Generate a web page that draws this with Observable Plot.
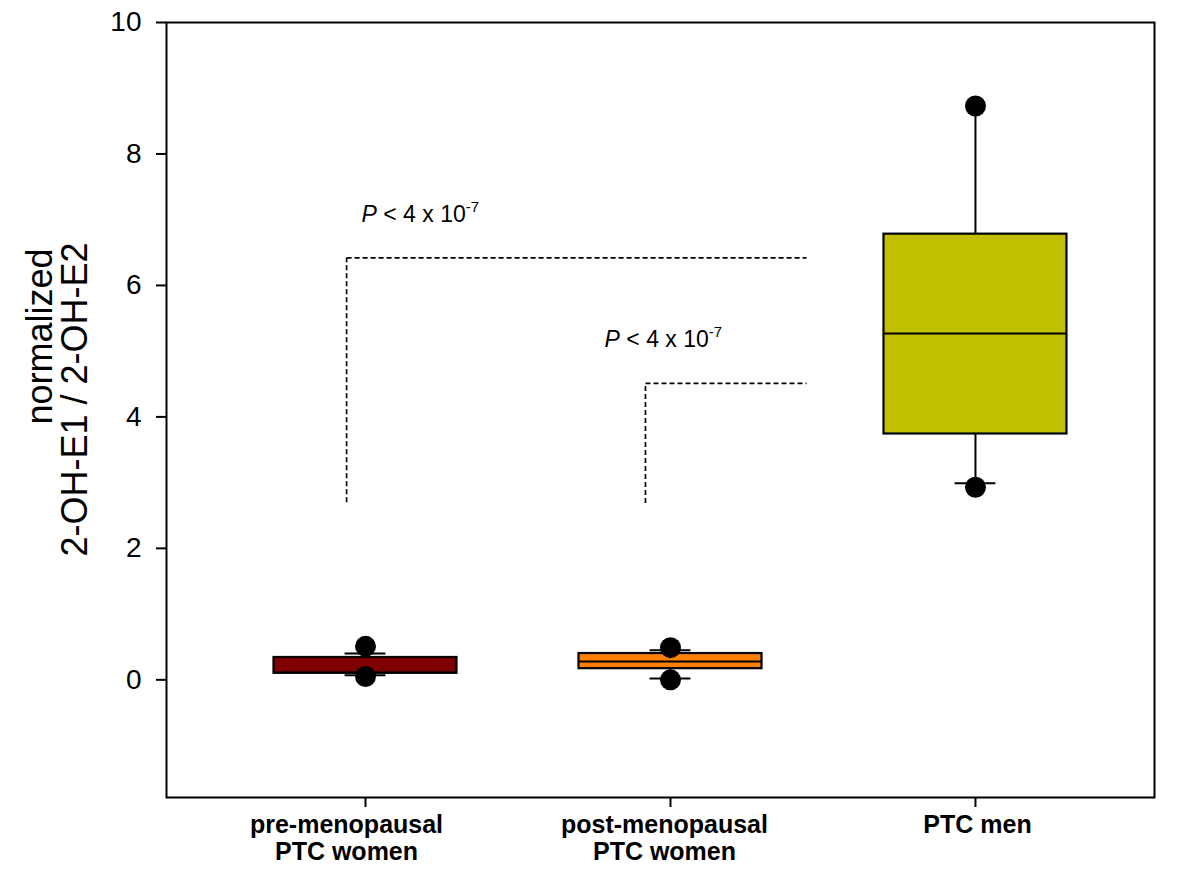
<!DOCTYPE html>
<html>
<head>
<meta charset="utf-8">
<script src="https://cdn.jsdelivr.net/npm/d3@7"></script>
<script src="https://cdn.jsdelivr.net/npm/@observablehq/plot@0.6"></script>
<style>
  html, body { margin: 0; padding: 0; background: white; }
</style>
</head>
<body>
<div id="chart"></div>
<script>
// ---- data ----
const categories = ["pre-menopausal\nPTC women", "post-menopausal\nPTC women", "PTC men"];
const q1 = [0.10, 0.17, 3.74];
const median = [0.11, 0.28, 5.27];
const q3 = [0.34, 0.40, 6.78];
const whiskerLow = [0.07, 0.02, 2.99];
const whiskerHigh = [0.40, 0.45, 8.72];
const capLowShown = [true, true, true];
const capHighShown = [true, true, false];
const outlierLow = [0.05, 0.00, 2.93];
const outlierHigh = [0.51, 0.49, 8.73];
const boxColors = ["#7f0000", "#ff8000", "#c0c000"];
const yTicks = [0, 2, 4, 6, 8, 10];
const yLabelLines = ["normalized", "2-OH-E1 / 2-OH-E2"];

// significance brackets: vertical line x, bottom y, top y, right end x
const bracketX = [0.938, 1.918];
const bracketBottom = [2.70, 2.69];
const bracketTop = [6.42, 4.51];
const bracketRight = [2.446, 2.446];
// annotation anchor (data coords)
const annotX = [0.987, 1.784];
const annotY = [6.96, 5.06];
const annotMain = "< 4 x 10";
const annotSup = "-7";

// ---- tables ----
const boxes = categories.map((c, i) => ({
  pos: i + 1, label: c, q1: q1[i], med: median[i], q3: q3[i],
  lo: whiskerLow[i], hi: whiskerHigh[i], color: boxColors[i],
  capLo: capLowShown[i], capHi: capHighShown[i]
}));
const outliers = boxes.flatMap((b, i) => [
  {pos: b.pos, v: outlierLow[i]}, {pos: b.pos, v: outlierHigh[i]}
]);
const halfW = 0.30, capHalf = 0.067;

const bracketSegs = bracketX.flatMap((x, i) => [
  {x1: x, x2: x, y1: bracketBottom[i], y2: bracketTop[i]},
  {x1: x, x2: bracketRight[i], y1: bracketTop[i], y2: bracketTop[i]}
]);
const annots = annotX.map((x, i) => ({x, y: annotY[i]}));

const font = "'Liberation Sans', Arial, Helvetica, sans-serif";
const catLabel = (i, dx) => Plot.text([boxes[i]], {
  x: "pos", text: "label", frameAnchor: "bottom", dy: 16, dx,
  lineAnchor: "top", textAnchor: "middle", fontSize: 25, fontWeight: "bold", lineHeight: 1.08, fill: "black"
});

const chart = Plot.plot({
  width: 1200,
  height: 880,
  marginLeft: 166,
  marginRight: 46,
  marginTop: 22,
  marginBottom: 83,
  style: {fontFamily: font, color: "black", background: "white", overflow: "visible"},
  x: {domain: [0.3475, 3.587], axis: null},
  y: {domain: [-1.79, 10], axis: null},
  marks: [
    // whiskers
    Plot.ruleX(boxes, {x: "pos", y1: "q3", y2: "hi", stroke: "black", strokeWidth: 2}),
    Plot.ruleX(boxes, {x: "pos", y1: "lo", y2: "q1", stroke: "black", strokeWidth: 2}),
    // caps
    Plot.ruleY(boxes.filter(d => d.capLo), {y: "lo", x1: d => d.pos - capHalf, x2: d => d.pos + capHalf, stroke: "black", strokeWidth: 2}),
    Plot.ruleY(boxes.filter(d => d.capHi), {y: "hi", x1: d => d.pos - capHalf, x2: d => d.pos + capHalf, stroke: "black", strokeWidth: 2}),
    // boxes
    Plot.rect(boxes, {x1: d => d.pos - halfW, x2: d => d.pos + halfW, y1: "q1", y2: "q3", fill: "color", stroke: "black", strokeWidth: 2.2}),
    // medians
    Plot.ruleY(boxes, {y: "med", x1: d => d.pos - halfW, x2: d => d.pos + halfW, stroke: "black", strokeWidth: 2}),
    // outliers
    Plot.dot(outliers, {x: "pos", y: "v", r: 10.5, fill: "black", stroke: "none"}),
    // significance brackets
    Plot.link(bracketSegs, {x1: "x1", x2: "x2", y1: "y1", y2: "y2", stroke: "black", strokeWidth: 1.7, strokeDasharray: "5,3"}),
    // annotations
    Plot.text(annots, {x: "x", y: "y", text: () => "P", fontStyle: "italic", fontSize: 23, textAnchor: "start", lineAnchor: "bottom", fill: "black"}),
    Plot.text(annots, {x: "x", y: "y", text: () => annotMain, fontSize: 23, textAnchor: "start", lineAnchor: "bottom", dx: 21.7, fill: "black"}),
    Plot.text(annots, {x: "x", y: "y", text: () => annotSup, fontSize: 15, textAnchor: "start", lineAnchor: "bottom", dx: 104.2, dy: -10, fill: "black"}),
    // axes
    Plot.axisY({ticks: yTicks, tickFormat: () => "", tickSize: 10, strokeWidth: 2, label: null}),
    Plot.text(yTicks, {y: d => d, text: d => String(d), frameAnchor: "left", dx: -25, textAnchor: "end", lineAnchor: "middle", fontSize: 28, fill: "black"}),
    Plot.axisX({ticks: [1, 2, 3], tickFormat: () => "", tickSize: 10, strokeWidth: 2, label: null}),
    catLabel(0, -19),
    catLabel(1, -6),
    catLabel(2, 2),
    // y title (two lines, positioned as in the reference)
    Plot.text([yLabelLines[0]], {frameAnchor: "left", text: d => d, rotate: -90, fontSize: 36, textAnchor: "middle", lineAnchor: "middle", dx: -126, dy: -73.5, fill: "black"}),
    Plot.text([yLabelLines[1]], {frameAnchor: "left", text: d => d, rotate: -90, fontSize: 36, textAnchor: "middle", lineAnchor: "middle", dx: -91, dy: -10.5, fill: "black"}),
    Plot.frame({stroke: "black", strokeWidth: 2})
  ]
});
document.getElementById("chart").appendChild(chart);
</script>
</body>
</html>
